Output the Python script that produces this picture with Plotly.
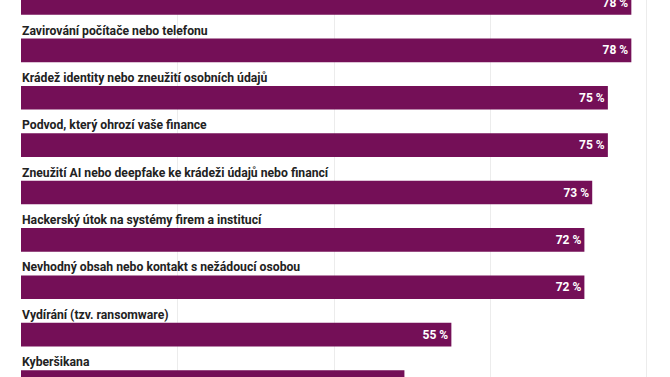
import plotly.graph_objects as go

categories = [
    "Napadení počítače škodlivým softwarem",
    "Zavirování počítače nebo telefonu",
    "Krádež identity nebo zneužití osobních údajů",
    "Podvod, který ohrozí vaše finance",
    "Zneužití AI nebo deepfake ke krádeži údajů nebo financí",
    "Hackerský útok na systémy firem a institucí",
    "Nevhodný obsah nebo kontakt s nežádoucí osobou",
    "Vydírání (tzv. ransomware)",
    "Kyberšikana",
]
values = [78, 78, 75, 75, 73, 72, 72, 55, 49]
grid_ticks = [20, 40, 60, 80]

BAR = "#740F57"
BAR_WIDTH = 0.5

fig = go.Figure()
fig.add_trace(go.Bar(
    x=values,
    y=categories,
    orientation="h",
    width=BAR_WIDTH,
    marker=dict(color=BAR, line=dict(width=0)),
    texttemplate="%{x} %",
    textposition="inside",
    insidetextanchor="end",
    textangle=0,
    textfont=dict(family="Roboto", size=12, color="white", weight="bold"),
    hoverinfo="skip",
))

# labels sit on the top edge of each bar (category index minus half bar width)
for i, c in enumerate(categories):
    fig.add_annotation(
        x=0, y=i - BAR_WIDTH / 2, xref="x", yref="y",
        text=c, showarrow=False,
        xanchor="left", yanchor="bottom",
        yshift=-1, xshift=-1,
        font=dict(family="Roboto", size=12.2, color="#222222", weight="bold"),
    )

fig.update_layout(
    width=670, height=377,
    margin=dict(l=0, r=0, t=0, b=0),
    paper_bgcolor="white", plot_bgcolor="white",
    showlegend=False,
    xaxis=dict(range=[-2.684, 82.94], tickvals=grid_ticks, showticklabels=False,
               showgrid=True, gridcolor="#ececec", gridwidth=1, zeroline=False,
               showline=False, fixedrange=True),
    yaxis=dict(range=[7.894, -0.063], showticklabels=False, showgrid=False,
               zeroline=False, showline=False, fixedrange=True),
)

fig.write_html(
    "out.html",
    config={"displayModeBar": False},
    post_script="document.body.style.margin='0';document.body.style.overflow='hidden';",
)
